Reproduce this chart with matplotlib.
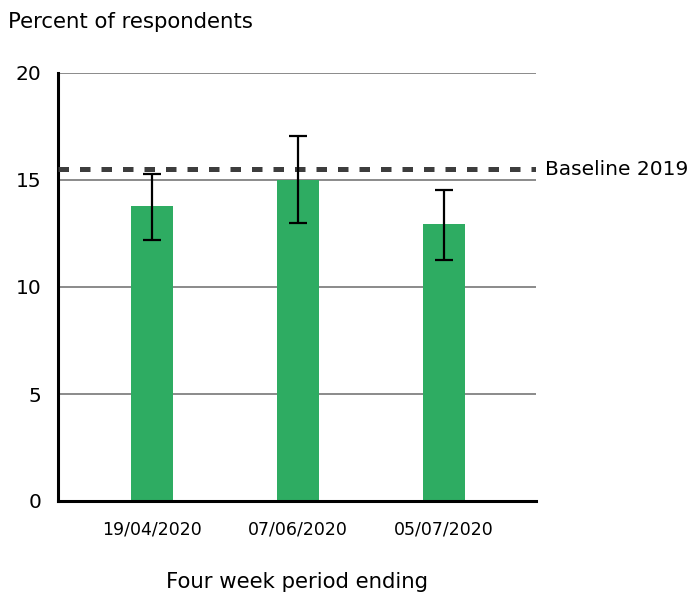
import matplotlib
matplotlib.use("Agg")
import matplotlib.pyplot as plt
import numpy as np

categories = ["19/04/2020", "07/06/2020", "05/07/2020"]
values = [13.8, 15.0, 12.95]
err_low = [12.2, 13.0, 11.25]
err_high = [15.3, 17.05, 14.55]
baseline = 15.5
baseline_label = "Baseline 2019"
yticks = [0, 5, 10, 15, 20]

plt.rcParams['font.family'] = ['DejaVu Sans']

fig = plt.figure(figsize=(6.95, 5.95), dpi=100)
ax = fig.add_axes([58/695, 1-501/595, (536-58)/695, (501-73)/595])

x = np.arange(len(categories))
vals = np.array(values)
yerr = np.array([vals - np.array(err_low), np.array(err_high) - vals])

for yt in yticks[1:]:
    ax.axhline(yt, color='#777777', lw=1.2, zorder=1)

ax.bar(x, vals, width=0.288, color='#2eac62', zorder=2)
ax.errorbar(x, vals, yerr=yerr, fmt='none', ecolor='black', elinewidth=1.6,
            capsize=6.2, capthick=1.6, zorder=4)
ax.axhline(baseline, color='#3d3d3d', lw=3.6, dashes=(2.1, 2.2), zorder=3)
ax.text(1.018, baseline, baseline_label, transform=ax.get_yaxis_transform(),
        va='center', ha='left', fontsize=14.5, color='black')

ax.set_xlim(-0.644, 2.63)
ax.set_ylim(0, 20)
ax.set_yticks(yticks)
ax.set_xticks(x)
ax.set_xticklabels(categories, fontsize=12.5)
ax.tick_params(axis='y', length=0, labelsize=14.5, pad=12)
ax.tick_params(axis='x', length=0, labelsize=12.5, pad=14)
for s in ['top', 'right']:
    ax.spines[s].set_visible(False)
for s in ['left', 'bottom']:
    ax.spines[s].set_linewidth(2.2)
    ax.spines[s].set_color('black')

ax.set_xlabel("Four week period ending", fontsize=15.3, labelpad=24)
fig.text(8/695, 1-22/595, "Percent of respondents", fontsize=15.3, va='center', ha='left')

fig.savefig("out.png", dpi=100)
